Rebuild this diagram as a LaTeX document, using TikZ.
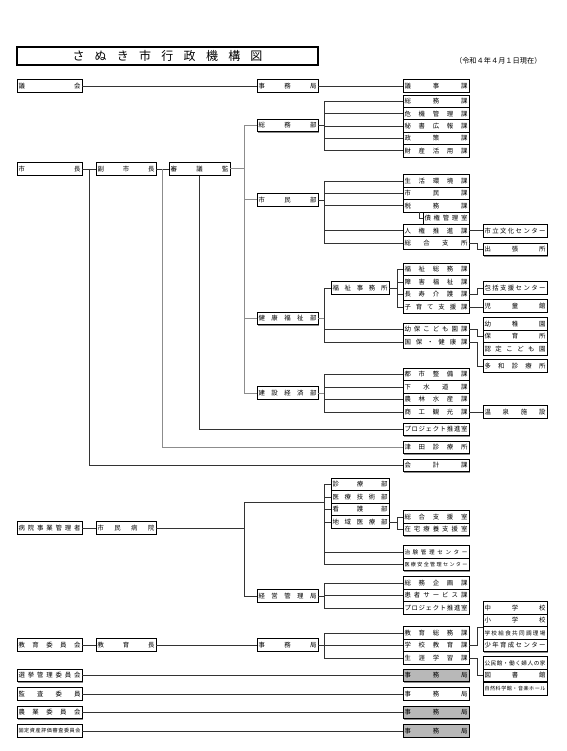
\documentclass[tikz,border=0pt]{standalone}
\usepackage{fontspec}
\setmainfont{Noto Sans CJK JP}
\usepackage{tikz}
\usetikzlibrary{calc,shadows}

\newcommand\unitfont{\fontsize{6.4}{7}\selectfont}
\newcommand\smallfont{\fontsize{5.6}{6}\selectfont}
\newcommand\tinyfont{\fontsize{5.1}{6}\selectfont}
\newcommand\titlefont{\fontsize{12}{14}\selectfont}
\newcommand\datefont{\fontsize{7.2}{8}\selectfont}

% spread the letters of a label over the whole box
\newcommand\spreadtext[1]{\spreadA#1\endspread}
\def\spreadA#1#2\endspread{#1\ifx\relax#2\relax\else\hfil\spreadA#2\endspread\fi}

\tikzset{
  unit/.style={draw=black, line width=0.6pt, fill=white, inner sep=0pt,
    minimum height=12.5pt, font=\unitfont,
    drop shadow={shadow xshift=0.8pt, shadow yshift=-0.8pt, fill=black!45, opacity=1}},
  greyunit/.style={fill=black!28},
  link/.style={draw=black!80, line width=0.8pt},
  glink/.style={draw=black!45, line width=1pt},
}

% \unitbox[options]{name}{left x}{right x}{y}{label}
\newcommand\unitbox[6][]{%
  \pgfmathsetmacro\boxw{#4-#3}%
  \node[unit, minimum width=\boxw pt, #1] (#2) at ({(#3+#4)/2},#5)
    {\makebox[\dimexpr\boxw pt-3pt\relax][s]{\spreadtext{#6}}};}

\begin{document}
\begin{tikzpicture}[x=1pt, y=-1pt]
  \useasboundingbox (0,0) rectangle (566,751);

  % bus lines
  \coordinate (busD) at (244,0);
  \coordinate (busE) at (324,0);
  \coordinate (busF) at (397,0);
  \coordinate (elbow) at (477,0);

  % title
  \node[draw, line width=1.1pt, minimum width=301pt, minimum height=18pt, inner sep=0pt, font=\titlefont]
    (title) at (167.5,56) {\makebox[190pt][s]{\spreadtext{さぬき市行政機構図}}};
  \node[font=\datefont, anchor=east] (asof) at (545,61) {（令和４年４月１日現在）};

  % council
  \unitbox{gikai}{17}{82}{86}{議会}
  \unitbox{gjimu}{257}{318}{86}{事務局}
  \unitbox{giji}{403}{469}{86}{議事課}
  \draw[link] (gikai) -- (gjimu);
  \draw[link] (gjimu) -- (giji);

  % mayor
  \unitbox{mayor}{17}{82}{169}{市長}
  \unitbox{vice}{96}{156}{169}{副市長}
  \unitbox{shingi}{169}{230}{169}{審議監}
  \draw[link] (mayor) -- (vice);
  \draw[link] (vice) -- (shingi);

  \unitbox{somu}{257}{318}{125.5}{総務部}
  \unitbox{shimin}{257}{318}{200}{市民部}
  \unitbox{kenko}{257}{318}{318.5}{健康福祉部}
  \unitbox{kensetsu}{257}{318}{393}{建設経済部}
  \draw[glink] (shingi.east) -- (busD |- shingi);
  \draw[glink] (busD |- somu) -- (busD |- kensetsu);
  \foreach \d in {somu,shimin,kenko,kensetsu}
    \draw[glink] (busD |- \d) -- (\d.west);

  % somu
  \unitbox{soumuka}{403}{469}{101.2}{総務課}
  \unitbox{kikika}{403}{469}{113.6}{危機管理課}
  \unitbox{hishoka}{403}{469}{126}{秘書広報課}
  \unitbox{seisakuka}{403}{469}{138.4}{政策課}
  \unitbox{zaisanka}{403}{469}{150.8}{財産活用課}
  \draw[link] (somu.east) -- (busE |- somu);
  \draw[link] (busE |- soumuka) -- (busE |- zaisanka);
  \foreach \s in {soumuka,kikika,hishoka,seisakuka,zaisanka}
    \draw[link] (busE |- \s) -- (\s.west);

  % shimin
  \unitbox{seikatsuka}{403}{469}{181}{生活環境課}
  \unitbox{shiminka}{403}{469}{193.4}{市民課}
  \unitbox{zeimuka}{403}{469}{205.8}{税務課}
  \unitbox{saiken}{423}{469}{218.2}{債権管理室}
  \unitbox{jinkenka}{403}{469}{230.6}{人権推進課}
  \unitbox{sogoshisho}{403}{469}{243}{総合支所}
  \unitbox{bunka}{483}{547}{230.6}{市立文化センター}
  \unitbox{shutcho}{483}{547}{249.5}{出張所}
  \coordinate (saikenup) at (419,212);
  \draw[link] (shimin.east) -- (busE |- shimin);
  \draw[link] (busE |- seikatsuka) -- (busE |- sogoshisho);
  \foreach \s in {seikatsuka,shiminka,zeimuka,jinkenka,sogoshisho}
    \draw[link] (busE |- \s) -- (\s.west);
  \draw[link] (saikenup) |- (saiken.west);
  \draw[link] (jinkenka) -- (bunka);
  \draw[link] (sogoshisho.east) -- (elbow |- sogoshisho) |- (shutcho.west);

  % kenko
  \unitbox{fukushijim}{331}{389}{288}{福祉事務所}
  \unitbox{fukushisomu}{403}{469}{269.5}{福祉総務課}
  \unitbox{shogaika}{403}{469}{282}{障害福祉課}
  \unitbox{chojuka}{403}{469}{294.5}{長寿介護課}
  \unitbox{kosodateka}{403}{469}{307}{子育て支援課}
  \unitbox{yohoka}{403}{469}{329.5}{幼保こども園課}
  \unitbox{kokuhoka}{403}{469}{342}{国保・健康課}
  \unitbox{hokatsu}{483}{547}{288}{包括支援センター}
  \unitbox{jidokan}{483}{547}{306}{児童館}
  \unitbox{yochien}{483}{547}{324}{幼稚園}
  \unitbox{hoikusho}{483}{547}{336.5}{保育所}
  \unitbox{nintei}{483}{547}{349}{認定こども園}
  \unitbox{tawa}{483}{547}{366}{多和診療所}
  \draw[glink] (kenko.east) -- (busE |- kenko);
  \draw[link] (busE |- fukushijim) -- (busE |- kokuhoka);
  \foreach \s in {fukushijim,yohoka,kokuhoka}
    \draw[link] (busE |- \s) -- (\s.west);
  \draw[link] (fukushijim.east) -- (busF |- fukushijim);
  \draw[link] (busF |- fukushisomu) -- (busF |- kosodateka);
  \foreach \s in {fukushisomu,shogaika,chojuka,kosodateka}
    \draw[link] (busF |- \s) -- (\s.west);
  \draw[link] (chojuka.east) -- (elbow |- chojuka) |- (hokatsu.west);
  \draw[link] (kosodateka.east) -- (jidokan.west |- kosodateka);
  \draw[link] (yohoka.east) -- (elbow |- yohoka) |- (hoikusho.west);
  \draw[link] (kokuhoka.east) -- (elbow |- kokuhoka) |- (tawa.west);

  % kensetsu
  \unitbox{toshika}{403}{469}{374.5}{都市整備課}
  \unitbox{gesuika}{403}{469}{387}{下水道課}
  \unitbox{norinka}{403}{469}{399.5}{農林水産課}
  \unitbox{shokoka}{403}{469}{412}{商工観光課}
  \unitbox{onsen}{483}{547}{412}{温泉施設}
  \draw[glink] (kensetsu.east) -- (busE |- kensetsu);
  \draw[link] (busE |- toshika) -- (busE |- shokoka);
  \foreach \s in {toshika,gesuika,norinka,shokoka}
    \draw[link] (busE |- \s) -- (\s.west);
  \draw[link] (shokoka) -- (onsen);

  % offices under the mayor
  \unitbox{proj}{403}{469}{429.5}{プロジェクト推進室}
  \unitbox{tsuda}{403}{469}{447.5}{津田診療所}
  \unitbox{kaikei}{403}{469}{465.5}{会計課}
  \coordinate (vicejoin) at ($(vice.east)!0.5!(shingi.west)$);
  \coordinate (mayorjoin) at ($(mayor.east)!0.5!(vice.west)$);
  \draw[link] (shingi.south) |- (proj.west);
  \draw[glink] (vicejoin) |- (tsuda.west);
  \draw[link] (mayorjoin) |- (kaikei.west);

  % hospital
  \unitbox{hmanager}{17}{82}{528}{病院事業管理者}
  \unitbox{hospital}{96}{156}{528}{市民病院}
  \unitbox{shinryo}{331}{389}{484.5}{診療部}
  \unitbox{gijutsu}{331}{389}{497}{医療技術部}
  \unitbox{kango}{331}{389}{509.5}{看護部}
  \unitbox{chiiki}{331}{389}{522}{地域医療部}
  \unitbox{sogoshien}{403}{469}{517}{総合支援室}
  \unitbox{zaitaku}{403}{469}{529.5}{在宅療養支援室}
  \unitbox[font=\smallfont]{chiken}{403}{469}{552}{治験管理センター}
  \unitbox[font=\tinyfont]{anzen}{403}{469}{564.5}{医療安全管理センター}
  \unitbox{keiei}{257}{318}{596}{経営管理局}
  \unitbox{somukikaku}{403}{469}{583}{総務企画課}
  \unitbox{kanja}{403}{469}{595.5}{患者サービス課}
  \unitbox{hproj}{403}{469}{608}{プロジェクト推進室}
  \coordinate (hosptop) at (244,502);
  \draw[link] (hmanager) -- (hospital);
  \draw[link] (hospital.east) -- (busD |- hospital);
  \draw[link] (hosptop) -- (busE |- hosptop);
  \draw[link] (hosptop) |- (keiei.west);
  \draw[link] (busE |- shinryo) -- (busE |- anzen);
  \foreach \s in {shinryo,gijutsu,kango,chiiki,chiken,anzen}
    \draw[link] (busE |- \s) -- (\s.west);
  \draw[link] (chiiki.east) -- (busF |- chiiki);
  \draw[link] (busF |- sogoshien) -- (busF |- zaitaku);
  \foreach \s in {sogoshien,zaitaku}
    \draw[link] (busF |- \s) -- (\s.west);
  \draw[link] (keiei.east) -- (busE |- keiei);
  \draw[link] (busE |- somukikaku) -- (busE |- hproj);
  \foreach \s in {somukikaku,kanja,hproj}
    \draw[link] (busE |- \s) -- (\s.west);

  % education
  \unitbox{kyoiku}{17}{82}{645}{教育委員会}
  \unitbox{kyoikucho}{96}{156}{645}{教育長}
  \unitbox{ejimu}{257}{318}{645}{事務局}
  \unitbox{kyosomu}{403}{469}{633}{教育総務課}
  \unitbox{gakkoka}{403}{469}{645.5}{学校教育課}
  \unitbox{shogaiga}{403}{469}{658}{生涯学習課}
  \unitbox{chugaku}{483}{547}{608}{中学校}
  \unitbox{shogaku}{483}{547}{620.5}{小学校}
  \unitbox[font=\smallfont]{kyushoku}{483}{547}{633}{学校給食共同調理場}
  \unitbox{shonen}{483}{547}{645.5}{少年育成センター}
  \unitbox[font=\smallfont]{kominkan}{483}{547}{663}{公民館・働く婦人の家}
  \unitbox{tosho}{483}{547}{675.5}{図書館}
  \unitbox[font=\tinyfont]{shizen}{483}{547}{689}{自然科学館・音楽ホール}
  \draw[link] (kyoiku) -- (kyoikucho);
  \draw[link] (kyoikucho) -- (ejimu);
  \draw[link] (ejimu.east) -- (busE |- ejimu);
  \draw[link] (busE |- kyosomu) -- (busE |- shogaiga);
  \foreach \s in {kyosomu,gakkoka,shogaiga}
    \draw[link] (busE |- \s) -- (\s.west);
  \draw[link] (gakkoka.east) -- (elbow |- gakkoka) |- (shogaku.south west);
  \draw[link] (shogaiga.east) -- (elbow |- shogaiga) |- (tosho.west);

  % committees
  \unitbox{senkyo}{17}{82}{675.5}{選挙管理委員会}
  \unitbox{kansa}{17}{82}{694}{監査委員}
  \unitbox{nogyo}{17}{82}{712.5}{農業委員会}
  \unitbox[font=\tinyfont]{kotei}{17}{82}{731}{固定資産評価審査委員会}
  \unitbox[greyunit]{sjimu}{403}{469}{675.5}{事務局}
  \unitbox{kjimu}{403}{469}{694}{事務局}
  \unitbox[greyunit]{njimu}{403}{469}{712.5}{事務局}
  \unitbox[greyunit]{tjimu}{403}{469}{731}{事務局}
  \draw[link] (senkyo) -- (sjimu);
  \draw[link] (kansa) -- (kjimu);
  \draw[link] (nogyo) -- (njimu);
  \draw[link] (kotei) -- (tjimu);
\end{tikzpicture}
\end{document}
